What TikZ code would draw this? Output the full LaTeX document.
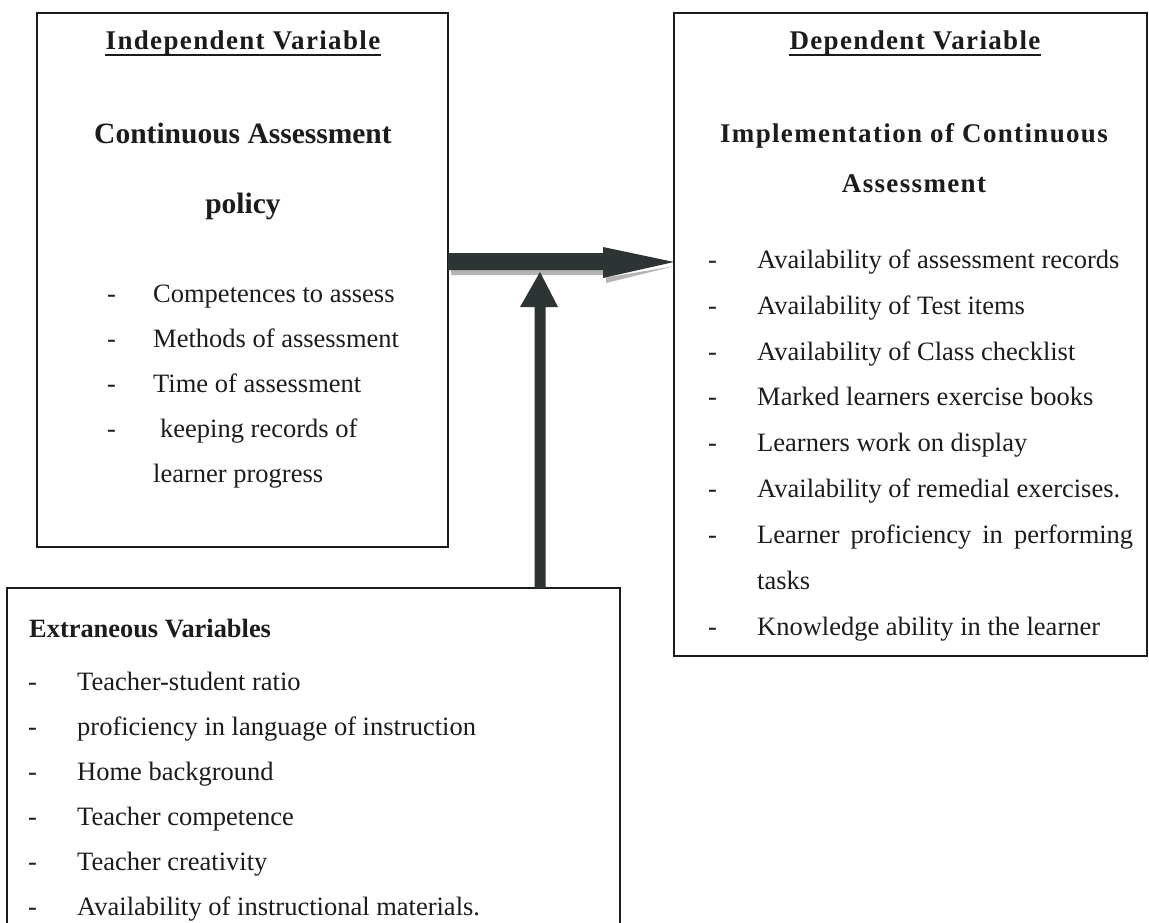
\documentclass[tikz,border=0pt]{standalone}
\usepackage{fontspec}
\setmainfont{Liberation Serif}
\newfontfamily\spacedserif[LetterSpace=5]{Liberation Serif}
\usetikzlibrary{calc}
\definecolor{ink}{HTML}{1C1C1C}
\definecolor{arrowfill}{HTML}{2C3434}
\definecolor{shadowgray}{HTML}{B4B4B4}
\tikzset{
  box/.style={draw=ink, line width=1.4pt, inner sep=0pt, outer sep=0pt, anchor=north west},
  body/.style={anchor=base west, inner sep=0pt, text=ink, font=\fontsize{26.5}{30}\selectfont},
  bighead/.style={anchor=base, inner sep=0pt, text=ink, font=\fontsize{29.5}{33}\selectfont\bfseries},
  title/.style={anchor=base, inner sep=0pt, text=ink, font=\spacedserif\fontsize{27}{30}\selectfont\bfseries},
  sidehead/.style={anchor=base west, inner sep=0pt, text=ink, font=\fontsize{26.4}{30}\selectfont\bfseries},
  blockarrow/.style={fill=arrowfill, draw=none},
  blockshadow/.style={fill=shadowgray, draw=none},
  underrule/.style={draw=ink, line width=1.5pt},
}
\begin{document}
\begin{tikzpicture}[x=1pt, y=-1pt]
\useasboundingbox (0,0) rectangle (1149,923);
\fill[white] (0,0) rectangle (1149,923);
\clip (0,0) rectangle (1149,923);

% the three boxes
\node[box, minimum width=411pt, minimum height=534pt] (indep) at (37,13) {};
\node[box, minimum width=473pt, minimum height=643pt] (dep) at (674,13) {};
\node[box, minimum width=613pt, minimum height=360pt] (extra) at (7,588) {};

% independent variable box
\node[title] (indtitle) at (243,50) {Independent Variable};
\draw[underrule] ($(indtitle.base west)+(0,5)$) -- ($(indtitle.base east)+(0,5)$);
\node[bighead] (indh1) at (243,144) {Continuous Assessment};
\node[bighead] (indh2) at (243,213) {policy};
\node[body] (ld1) at (107,302) {-};
\node[body] (li1) at (153,302) {Competences to assess};
\node[body] (ld2) at (107,347) {-};
\node[body] (li2) at (153,347) {Methods of assessment};
\node[body] (ld3) at (107,392) {-};
\node[body] (li3) at (153,392) {Time of assessment};
\node[body] (ld4) at (107,437) {-};
\node[body] (li4) at (160,437) {keeping records of};
\node[body] (li5) at (153,482) {learner progress};

% dependent variable box
\node[title] (deptitle) at (915,50) {Dependent Variable};
\draw[underrule] ($(deptitle.base west)+(0,5)$) -- ($(deptitle.base east)+(0,5)$);
\node[title] (deph1) at (914,143) {Implementation of Continuous};
\node[title] (deph2) at (914,193) {Assessment};
\node[body] (rd1) at (708,268) {-};
\node[body] (ri1) at (757,268) {Availability of assessment records};
\node[body] (rd2) at (708,314) {-};
\node[body] (ri2) at (757,314) {Availability of Test items};
\node[body] (rd3) at (708,360) {-};
\node[body] (ri3) at (757,360) {Availability of Class checklist};
\node[body] (rd4) at (708,405) {-};
\node[body] (ri4) at (757,405) {Marked learners exercise books};
\node[body] (rd5) at (708,451) {-};
\node[body] (ri5) at (757,451) {Learners work on display};
\node[body] (rd6) at (708,497) {-};
\node[body] (ri6) at (757,497) {Availability of remedial exercises.};
\node[body] (rd7) at (708,543) {-};
\node[body] (ri7) at (757,543) {\makebox[376pt][s]{Learner proficiency in performing}};
\node[body] (ri8) at (757,589) {tasks};
\node[body] (rd9) at (708,635) {-};
\node[body] (ri9) at (757,635) {Knowledge ability in the learner};

% extraneous variables box
\node[sidehead] (exth) at (29,637) {Extraneous Variables};
\node[body] (ed1) at (28,690) {-};
\node[body] (ei1) at (77,690) {Teacher-student ratio};
\node[body] (ed2) at (28,735) {-};
\node[body] (ei2) at (77,735) {proficiency in language of instruction};
\node[body] (ed3) at (28,780) {-};
\node[body] (ei3) at (77,780) {Home background};
\node[body] (ed4) at (28,825) {-};
\node[body] (ei4) at (77,825) {Teacher competence};
\node[body] (ed5) at (28,870) {-};
\node[body] (ei5) at (77,870) {Teacher creativity};
\node[body] (ed6) at (28,915) {-};
\node[body] (ei6) at (77,915) {Availability of instructional materials.};

% block arrow: independent -> dependent
\coordinate (hA) at (indep.east |- 0,262);
\coordinate (hB) at (dep.west |- 0,262);
\fill[blockshadow]
  ($(hA)+(3,13)$) -- ($(hB)+(-68,13)$) -- ($(hB)+(-68,21)$) -- ($(hB)+(1,4)$)
  -- ($(hB)+(-71,16)$) -- ($(hB)+(-71,8)$) -- ($(hA)+(3,8)$) -- cycle;
\fill[blockarrow]
  ($(hA)+(0,-9)$) -- ($(hB)+(-71,-9)$) -- ($(hB)+(-71,-15)$) -- (hB)
  -- ($(hB)+(-71,16)$) -- ($(hB)+(-71,8)$) -- ($(hA)+(0,8)$) -- cycle;

% block arrow: extraneous -> main arrow
\coordinate (vA) at (extra.north -| 540,0);
\coordinate (vB) at (540,272);
\fill[blockarrow]
  ($(vA)+(-5.5,0)$) -- ($(vB)+(-5.5,35)$) -- ($(vB)+(-20,35)$) -- (vB)
  -- ($(vB)+(18,35)$) -- ($(vB)+(5.5,35)$) -- ($(vA)+(5.5,0)$) -- cycle;
\end{tikzpicture}
\end{document}
